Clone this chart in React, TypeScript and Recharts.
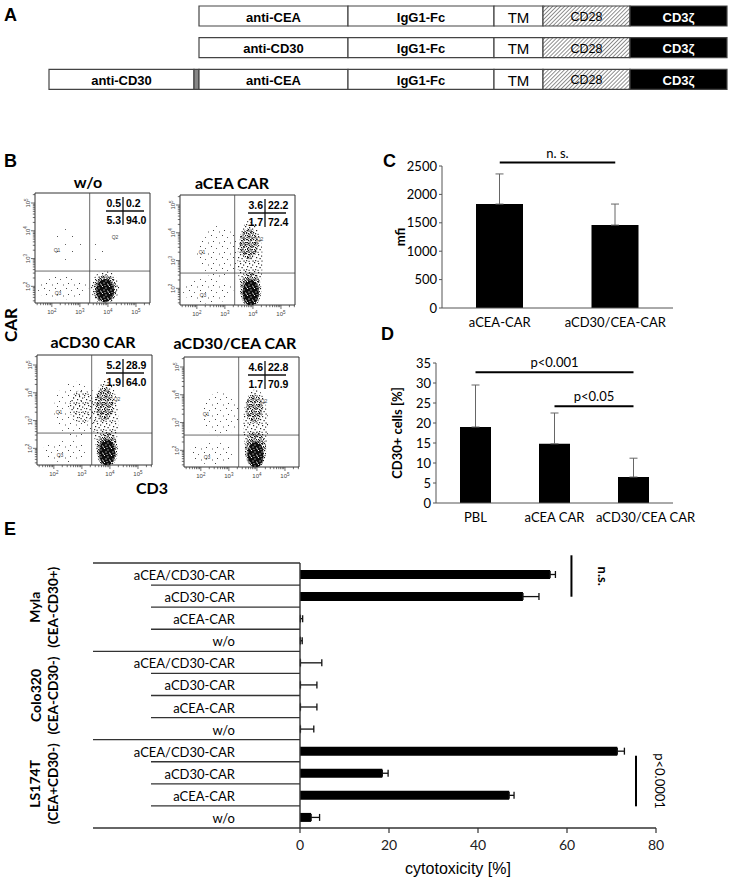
import React from 'react';
import {
  BarChart, Bar, XAxis, YAxis, ScatterChart, Scatter, ReferenceLine, ReferenceArea,
  ReferenceDot, ErrorBar, LabelList,
} from 'recharts';

const ARIAL = '"Liberation Sans", Arial, Helvetica, sans-serif';
const CALI = 'Lato, "Open Sans", sans-serif';

// ---------------- Panel A : CAR constructs (domain lengths, schematic units) ----------------
const constructNames = ['aCEA CAR', 'aCD30 CAR', 'aCD30/CEA CAR'];
const leadBinderNames = ['', '', 'anti-CD30'];
const mainBinderNames = ['anti-CEA', 'anti-CD30', 'anti-CEA'];
const leadBinderLen = [0, 0, 145];
const linkerLen = [0, 0, 5];
const mainBinderLen = [149, 149, 149];
const fcLen = [146, 146, 146];
const tmLen = [49, 49, 49];
const cd28Len = [87, 87, 87];
const cd3zLen = [97, 97, 97];
const fcName = 'IgG1-Fc';
const tmName = 'TM';
const cd28Name = 'CD28';
const cd3zName = 'CD3ζ';

// ---------------- Panel B : flow cytometry ----------------
const flowTitles = ['w/o', 'aCEA CAR', 'aCD30 CAR', 'aCD30/CEA CAR'];
const quadUL = ['0.5', '3.6', '5.2', '4.6'];
const quadUR = ['0.2', '22.2', '28.9', '22.8'];
const quadLL = ['5.3', '1.7', '1.9', '1.7'];
const quadLR = ['94.0', '72.4', '64.0', '70.9'];
const cd3Gate = 3.35;
const carGate = 2.55;
const flowXDomain = [1.4, 5.5];
const flowYDomain = [1.4, 5.36];
const flowDecades = [1, 2, 3, 4, 5];
const flowMinorFactors = [2, 3, 4, 5, 6, 7, 8, 9];
// cell populations: x = log10 CD3, y = log10 CAR, sx/sy = spread in decades, d = density level
const woClusters = [
  { x: 2.6, y: 3.5, sx: 0.55, sy: 0.75, d: -1 },
  { x: 3.6, y: 3.1, sx: 0.3, sy: 0.45, d: -1 },
  { x: 2.35, y: 1.95, sx: 0.95, sy: 0.42, d: 0 },
  { x: 3.9, y: 1.95, sx: 0.5, sy: 0.6, d: 1 },
  { x: 3.9, y: 1.9, sx: 0.41, sy: 0.5, d: 2 },
  { x: 3.9, y: 1.85, sx: 0.32, sy: 0.41, d: 3 },
];
const aceaClusters = [
  { x: 2.4, y: 1.9, sx: 0.9, sy: 0.45, d: 0 },
  { x: 2.75, y: 3.3, sx: 0.75, sy: 0.95, d: 0 },
  { x: 3.9, y: 3.0, sx: 0.45, sy: 1.45, d: 1 },
  { x: 3.85, y: 3.6, sx: 0.33, sy: 0.55, d: 2 },
  { x: 3.92, y: 1.95, sx: 0.38, sy: 0.62, d: 2 },
  { x: 3.92, y: 1.85, sx: 0.29, sy: 0.47, d: 3 },
];
const acd30Clusters = [
  { x: 2.4, y: 1.9, sx: 0.8, sy: 0.4, d: 0 },
  { x: 2.8, y: 3.4, sx: 0.8, sy: 1.0, d: 0 },
  { x: 3.0, y: 3.5, sx: 0.45, sy: 0.6, d: 1 },
  { x: 3.85, y: 3.0, sx: 0.45, sy: 1.45, d: 1 },
  { x: 3.8, y: 3.6, sx: 0.32, sy: 0.6, d: 2 },
  { x: 3.9, y: 1.95, sx: 0.38, sy: 0.62, d: 2 },
  { x: 3.9, y: 1.85, sx: 0.29, sy: 0.47, d: 3 },
];
const acd30ceaClusters = [
  { x: 2.4, y: 1.9, sx: 0.8, sy: 0.4, d: 0 },
  { x: 2.7, y: 3.3, sx: 0.65, sy: 0.8, d: 0 },
  { x: 3.95, y: 2.9, sx: 0.45, sy: 1.3, d: 1 },
  { x: 3.9, y: 3.5, sx: 0.3, sy: 0.5, d: 2 },
  { x: 3.95, y: 2.0, sx: 0.38, sy: 0.65, d: 2 },
  { x: 3.95, y: 1.85, sx: 0.29, sy: 0.47, d: 3 },
];
const flowClusters = [woClusters, aceaClusters, acd30Clusters, acd30ceaClusters];

// ---------------- Panel C : mfi ----------------
const mfiCategories = ['aCEA-CAR', 'aCD30/CEA-CAR'];
const mfiValues = [1830, 1460];
const mfiErrors = [530, 370];
const mfiTicks = [0, 500, 1000, 1500, 2000, 2500];
const mfiBracket = 2560;

// ---------------- Panel D : CD30+ cells ----------------
const cd30Categories = ['PBL', 'aCEA CAR', 'aCD30/CEA CAR'];
const cd30Values = [19.0, 14.8, 6.5];
const cd30Errors = [10.5, 7.7, 4.7];
const cd30Ticks = [0, 5, 10, 15, 20, 25, 30, 35];
const cd30BracketWide = 32.7;
const cd30BracketNarrow = 24.2;

// ---------------- Panel E : cytotoxicity ----------------
const cellLines = ['Myla', 'Colo320', 'LS174T'];
const cellPhenotypes = ['(CEA-CD30+)', '(CEA-CD30-)', '(CEA+CD30-)'];
const effectors = ['aCEA/CD30-CAR', 'aCD30-CAR', 'aCEA-CAR', 'w/o'];
const mylaCytotox = [56.2, 50.1, 0.1, 0.1];
const mylaErr = [1.2, 3.6, 0.5, 0.4];
const coloCytotox = [0.1, 0.1, 0.1, 0.1];
const coloErr = [4.8, 3.7, 3.7, 3.0];
const lsCytotox = [71.3, 18.5, 47.0, 2.5];
const lsErr = [1.6, 1.3, 1.1, 1.9];
const cytoTicks = [0, 20, 40, 60, 80];

// ================= derived tables =================
const constructTotals = constructNames.map((_, i) =>
  leadBinderLen[i] + linkerLen[i] + mainBinderLen[i] + fcLen[i] + tmLen[i] + cd28Len[i] + cd3zLen[i]);
const constructMax = Math.max(...constructTotals);
const constructData = constructNames.map((name, i) => ({
  name,
  pad: constructMax - constructTotals[i],
  lead: leadBinderLen[i], linker: linkerLen[i], main: mainBinderLen[i],
  fc: fcLen[i], tm: tmLen[i], cd28: cd28Len[i], cd3z: cd3zLen[i],
  leadName: leadBinderNames[i], mainName: mainBinderNames[i],
  fcName, tmName, cd28Name, cd3zName,
}));

const mfiData = mfiCategories.map((c, i) => ({ cat: c, v: mfiValues[i], err: [0, mfiErrors[i]] }));
const cd30Data = cd30Categories.map((c, i) => ({ cat: c, v: cd30Values[i], err: [0, cd30Errors[i]] }));

const cytoVals = [mylaCytotox, coloCytotox, lsCytotox];
const cytoErrs = [mylaErr, coloErr, lsErr];
const rowsE = cellLines.flatMap((line, g) => effectors.map((eff, j) => ({
  id: `${line}:${eff}`, g, j, eff, v: cytoVals[g][j], err: [0, cytoErrs[g][j]],
})));

const flowTicks = (dom: number[]) => flowDecades
  .flatMap((n) => [n, ...flowMinorFactors.map((k) => n + Math.log10(k))])
  .filter((t) => t >= dom[0] && t <= dom[1]);
const flowTicksX = flowTicks(flowXDomain);
const flowTicksY = flowTicks(flowYDomain);

// ================= layout constants =================
const FLOW_W = 115;
const FLOW_H = 110;
const flowFrameX = [35, 180, 37, 184];
const flowFrameY = [193, 195, 355, 357];
const flowCrossX = [88, 85, 86, 81];
const flowTitleX = [88, 232, 93, 235];
const flowTitleY = [182, 183, 342, 343];
const PXX = FLOW_W / (flowXDomain[1] - flowXDomain[0]);
const PXY = FLOW_H / (flowYDomain[1] - flowYDomain[0]);
const densityPattern: Record<string, string> = { '-1': 'fdq', '0': 'fd0', '1': 'fd1', '2': 'fd2', '3': 'fd3' };
const cd30LabelShift = [0, 0, 12];

const E_PLOT_H = 265;
const ROW_H = E_PLOT_H / rowsE.length;

// ================= helpers =================
const dot = (x: number, y: number, c = '#111', s = 1.2) => <rect key={`${x}-${y}`} x={x} y={y} width={s} height={s} fill={c} />;

function PatternDefs() {
  return (
    <svg width={0} height={0} style={{ position: 'absolute' }}>
      <defs>
        <pattern id="hatch" patternUnits="userSpaceOnUse" width={2.8} height={2.8} patternTransform="rotate(45)">
          <rect width={2.8} height={2.8} fill="#fff" />
          <line x1={0} y1={0} x2={0} y2={2.8} stroke="#555" strokeWidth={1.3} />
        </pattern>
        <pattern id="fd3" patternUnits="userSpaceOnUse" width={7} height={7}>
          <rect width={7} height={7} fill="#0d0d0d" />
          {dot(1, 0, '#fff', 1)}{dot(4.5, 1.5, '#eee', 1)}{dot(2.5, 3.5, '#fff', 1)}{dot(6, 4.5, '#ddd', 1)}{dot(0, 5.5, '#fff', 1)}{dot(3.5, 6, '#ccc', 1)}
        </pattern>
        <pattern id="fd2" patternUnits="userSpaceOnUse" width={7} height={7}>
          {dot(0, 0)}{dot(2, 1)}{dot(5, 0.5)}{dot(1, 3)}{dot(3.5, 2.5)}{dot(6, 3)}{dot(0.5, 5)}{dot(2.5, 5.5)}{dot(4.5, 4.5)}{dot(5.5, 6)}{dot(4, 0)}{dot(2, 4)}
        </pattern>
        <pattern id="fd1" patternUnits="userSpaceOnUse" width={9} height={9}>
          {dot(0, 0, '#222')}{dot(4, 1, '#222')}{dot(7, 2.5, '#333')}{dot(2, 4, '#222')}{dot(5.5, 5, '#222')}{dot(1, 7, '#333')}{dot(7.5, 7.5, '#222')}{dot(3.5, 7.8, '#444')}
        </pattern>
        <pattern id="fd0" patternUnits="userSpaceOnUse" width={11} height={11}>
          {dot(1, 1, '#444', 1)}{dot(6, 3, '#666', 1)}{dot(3, 7, '#444', 1)}{dot(9, 8.5, '#555', 1)}
        </pattern>
        <pattern id="fdq" patternUnits="userSpaceOnUse" width={15} height={15}>
          {dot(2, 3, '#555', 1)}{dot(10, 11, '#666', 1)}
        </pattern>
      </defs>
    </svg>
  );
}

const segLabel = (fill: string, weight: number, size: number) => (p: any) => {
  if (!p.value || !p.width) return null;
  return (
    <text x={p.x + p.width / 2} y={p.y + p.height / 2 + 1} textAnchor="middle" dominantBaseline="central"
      fill={fill} fontWeight={weight} fontSize={size} fontFamily={ARIAL}>{p.value}</text>
  );
};

function PanelA() {
  const box = { stroke: '#444', strokeWidth: 1.2 };
  return (
    <BarChart layout="vertical" width={744} height={95} data={constructData} barSize={20}
      margin={{ top: 0, right: 17, bottom: 0, left: 49 }}>
      <XAxis type="number" hide domain={[0, constructMax]} />
      <YAxis type="category" dataKey="name" hide />
      <Bar dataKey="pad" stackId="s" fill="none" isAnimationActive={false} />
      <Bar dataKey="lead" stackId="s" fill="#fff" {...box} isAnimationActive={false}>
        <LabelList dataKey="leadName" content={segLabel('#000', 700, 13)} />
      </Bar>
      <Bar dataKey="linker" stackId="s" fill="#888" {...box} isAnimationActive={false} />
      <Bar dataKey="main" stackId="s" fill="#fff" {...box} isAnimationActive={false}>
        <LabelList dataKey="mainName" content={segLabel('#000', 700, 13)} />
      </Bar>
      <Bar dataKey="fc" stackId="s" fill="#fff" {...box} isAnimationActive={false}>
        <LabelList dataKey="fcName" content={segLabel('#000', 700, 13)} />
      </Bar>
      <Bar dataKey="tm" stackId="s" fill="#fff" {...box} isAnimationActive={false}>
        <LabelList dataKey="tmName" content={segLabel('#000', 400, 15)} />
      </Bar>
      <Bar dataKey="cd28" stackId="s" fill="url(#hatch)" {...box} isAnimationActive={false}>
        <LabelList dataKey="cd28Name" content={segLabel('#000', 400, 12.5)} />
      </Bar>
      <Bar dataKey="cd3z" stackId="s" fill="#000" {...box} isAnimationActive={false}>
        <LabelList dataKey="cd3zName" content={segLabel('#fff', 700, 13)} />
      </Bar>
    </BarChart>
  );
}

const isMajor = (v: number) => Math.abs(v - Math.round(v)) < 1e-6;
function FlowXTick(p: any) {
  const v = p.payload.value;
  const m = isMajor(v);
  return (
    <g>
      <line x1={p.x} x2={p.x} y1={p.y} y2={p.y + (m ? 4 : 2.2)} stroke="#333" strokeWidth={0.7} />
      {m ? (
        <text x={p.x} y={p.y + 11} textAnchor="middle" fontSize={6} fill="#444" fontFamily={ARIAL}>
          10<tspan dy={-2.5} fontSize={4.5}>{Math.round(v)}</tspan>
        </text>
      ) : null}
    </g>
  );
}
function FlowYTick(p: any) {
  const v = p.payload.value;
  const m = isMajor(v);
  const tx = p.x - 5;
  return (
    <g>
      <line x1={p.x - (m ? 4 : 2.2)} x2={p.x} y1={p.y} y2={p.y} stroke="#333" strokeWidth={0.7} />
      {m ? (
        <text x={tx} y={p.y} transform={`rotate(-90 ${tx} ${p.y})`} textAnchor="middle" fontSize={6} fill="#444" fontFamily={ARIAL}>
          10<tspan dy={-2.5} fontSize={4.5}>{Math.round(v)}</tspan>
        </text>
      ) : null}
    </g>
  );
}
function BlobShape(p: any) {
  const c = p.payload;
  if (p.cx == null || p.cy == null) return null;
  return <ellipse cx={p.cx} cy={p.cy} rx={c.sx * PXX} ry={c.sy * PXY} fill={`url(#${densityPattern[String(c.d)]})`} />;
}

function FlowPlot({ i }: { i: number }) {
  return (
    <div style={{ position: 'absolute', left: flowFrameX[i] - 25, top: flowFrameY[i] - 5 }}>
      <ScatterChart width={FLOW_W + 30} height={FLOW_H + 30} margin={{ top: 5, right: 5, bottom: 5, left: 5 }}>
        <XAxis type="number" dataKey="x" domain={flowXDomain} allowDataOverflow ticks={flowTicksX} interval={0}
          tick={FlowXTick} tickLine={false} tickSize={0} tickMargin={0} axisLine={false} height={20} />
        <YAxis type="number" dataKey="y" domain={flowYDomain} allowDataOverflow ticks={flowTicksY} interval={0}
          tick={FlowYTick} tickLine={false} tickSize={0} tickMargin={0} axisLine={false} width={20} />
        <Scatter data={flowClusters[i]} shape={BlobShape} isAnimationActive={false} />
        <ReferenceLine x={cd3Gate} stroke="#444" strokeWidth={0.8} />
        <ReferenceLine y={carGate} stroke="#444" strokeWidth={0.8} />
        <ReferenceArea x1={flowXDomain[0]} x2={flowXDomain[1]} y1={flowYDomain[0]} y2={flowYDomain[1]}
          fill="none" stroke="#333" strokeWidth={1} />
      </ScatterChart>
    </div>
  );
}

const tickStyle = { fontSize: 13, fill: '#000', fontFamily: CALI };

function PanelC() {
  return (
    <BarChart width={330} height={200} data={mfiData} barSize={47} margin={{ top: 26, right: 17, left: 30, bottom: 0 }}>
      <XAxis dataKey="cat" height={32} tickLine={false} axisLine={{ stroke: '#555' }} tick={tickStyle} tickMargin={4} interval={0} />
      <YAxis width={52} domain={[0, 2500]} ticks={mfiTicks} interval={0} tickSize={3} tickMargin={2}
        axisLine={{ stroke: '#555' }} tickLine={{ stroke: '#555' }} tick={tickStyle}
        label={{ value: 'mfi', angle: -90, position: 'insideLeft', offset: 10,
          style: { textAnchor: 'middle', fontWeight: 700, fontSize: 13, fill: '#000', fontFamily: CALI } }} />
      <Bar dataKey="v" fill="#000" isAnimationActive={false}>
        <ErrorBar dataKey="err" width={4} stroke="#666" strokeWidth={1} direction="y" />
      </Bar>
      <ReferenceLine segment={[{ x: mfiCategories[0], y: mfiBracket }, { x: mfiCategories[1], y: mfiBracket }]}
        stroke="#000" strokeWidth={2} ifOverflow="visible"
        label={{ value: 'n. s.', position: 'top', fontSize: 13, fill: '#000', fontFamily: CALI }} />
    </BarChart>
  );
}

function CD30Tick(p: any) {
  const idx = cd30Categories.indexOf(p.payload.value);
  const dx = idx >= 0 ? cd30LabelShift[idx] : 0;
  return (
    <text x={p.x + dx} y={p.y} dy="0.71em" textAnchor="middle" fontSize={13} fill="#000" fontFamily={CALI}>{p.payload.value}</text>
  );
}

function PanelD() {
  return (
    <BarChart width={370} height={200} data={cd30Data} barSize={31} margin={{ top: 33, right: 57, left: 30, bottom: 0 }}>
      <XAxis dataKey="cat" height={27} tickLine={false} axisLine={{ stroke: '#555' }} tick={CD30Tick} tickMargin={4} interval={0} />
      <YAxis width={46} domain={[0, 35]} ticks={cd30Ticks} interval={0} tickSize={3} tickMargin={2}
        axisLine={{ stroke: '#555' }} tickLine={{ stroke: '#555' }} tick={tickStyle}
        label={{ value: 'CD30+ cells [%]', angle: -90, position: 'insideLeft', offset: 7,
          style: { textAnchor: 'middle', fontWeight: 700, fontSize: 13, fill: '#000', fontFamily: CALI } }} />
      <Bar dataKey="v" fill="#000" isAnimationActive={false}>
        <ErrorBar dataKey="err" width={4} stroke="#666" strokeWidth={1} direction="y" />
      </Bar>
      <ReferenceLine segment={[{ x: cd30Categories[0], y: cd30BracketWide }, { x: cd30Categories[2], y: cd30BracketWide }]}
        stroke="#000" strokeWidth={2} ifOverflow="visible"
        label={{ value: 'p<0.001', position: 'top', fontSize: 13, fill: '#000', fontFamily: CALI }} />
      <ReferenceLine segment={[{ x: cd30Categories[1], y: cd30BracketNarrow }, { x: cd30Categories[2], y: cd30BracketNarrow }]}
        stroke="#000" strokeWidth={2} ifOverflow="visible"
        label={{ value: 'p<0.05', position: 'top', fontSize: 13, fill: '#000', fontFamily: CALI }} />
    </BarChart>
  );
}

function EYTick(p: any) {
  const idx = rowsE.findIndex((r) => r.id === p.payload.value);
  if (idx < 0) return null;
  const row = rowsE[idx];
  const yTop = p.y - ROW_H / 2;
  const groupStart = row.j === 0;
  const gy = p.y + ROW_H * (effectors.length - 1) / 2;
  return (
    <g>
      <line x1={groupStart ? 93 : 151} x2={p.x} y1={yTop} y2={yTop} stroke="#333" strokeWidth={1.4} />
      {idx === rowsE.length - 1 ? (
        <line x1={93} x2={p.x} y1={p.y + ROW_H / 2} y2={p.y + ROW_H / 2} stroke="#333" strokeWidth={1.4} />
      ) : null}
      <text x={235} y={p.y + 1} textAnchor="end" dominantBaseline="central" fontSize={13} fill="#000" fontFamily={CALI}>{row.eff}</text>
      {groupStart ? (
        <g>
          <text x={35} y={gy} transform={`rotate(-90 35 ${gy})`} textAnchor="middle" dominantBaseline="central"
            fontSize={14} fontWeight={700} fill="#000" fontFamily={CALI}>{cellLines[row.g]}</text>
          <text x={53} y={gy} transform={`rotate(-90 53 ${gy})`} textAnchor="middle" dominantBaseline="central"
            fontSize={13.5} fontWeight={700} fill="#000" fontFamily={CALI}>{cellPhenotypes[row.g]}</text>
        </g>
      ) : null}
    </g>
  );
}

const rotLabel = (text: string, bold: boolean) => (p: any) => {
  const vb = p.viewBox || {};
  const cx = (vb.x || 0) + (vb.width || 0) / 2;
  const cy = (vb.y || 0) + (vb.height || 0) / 2;
  return (
    <text x={cx} y={cy} transform={`rotate(90 ${cx} ${cy})`} textAnchor="middle" dominantBaseline="central"
      fontSize={13} fontWeight={bold ? 700 : 400} fill="#000" fontFamily={CALI}>{text}</text>
  );
};

function PanelE() {
  return (
    <BarChart layout="vertical" width={744} height={362} data={rowsE} barSize={9}
      margin={{ top: 43, right: 88, left: 0, bottom: 0 }}>
      <XAxis type="number" domain={[0, 80]} ticks={cytoTicks} interval={0} height={54} tickSize={5} tickMargin={7}
        axisLine={{ stroke: '#333', strokeWidth: 1.4 }} tickLine={{ stroke: '#333', strokeWidth: 1.2 }}
        tick={{ fontSize: 14, fill: '#222', fontFamily: CALI }}
        label={(p: any) => {
          const vb = p.viewBox;
          return <text x={vb.x + vb.width / 2 - 20} y={vb.y + vb.height - 8} textAnchor="middle" fontSize={16} fill="#000" fontFamily={ARIAL}>cytotoxicity [%]</text>;
        }} />
      <YAxis type="category" dataKey="id" width={300} interval={0} tickLine={false} tickSize={0} tickMargin={0}
        axisLine={{ stroke: '#333', strokeWidth: 1.4 }} tick={EYTick} />
      <YAxis yAxisId="num" type="number" domain={[-0.5, rowsE.length - 0.5]} hide />
      <Bar dataKey="v" fill="#000" isAnimationActive={false}>
        <ErrorBar dataKey="err" width={3.5} stroke="#111" strokeWidth={1.3} direction="x" />
      </Bar>
      <ReferenceLine yAxisId="num" segment={[{ x: 61, y: -0.32 }, { x: 61, y: 1.4 }]} stroke="#000" strokeWidth={2} ifOverflow="visible" />
      <ReferenceLine yAxisId="num" segment={[{ x: 75.5, y: 8 }, { x: 75.5, y: 10.1 }]} stroke="#000" strokeWidth={2} ifOverflow="visible" />
      <ReferenceDot yAxisId="num" x={68} y={0.55} r={1} fill="none" stroke="none" ifOverflow="visible" label={rotLabel('n.s.', true)} />
      <ReferenceDot yAxisId="num" x={81} y={9.05} r={1} fill="none" stroke="none" ifOverflow="visible" label={rotLabel('p<0.0001', false)} />
    </BarChart>
  );
}

function Overlay() {
  const letter = { fontFamily: ARIAL, fontWeight: 700, fontSize: 18, fill: '#000' } as const;
  return (
    <svg width={744} height={882} style={{ position: 'absolute', left: 0, top: 0, pointerEvents: 'none' }}>
      <text x={4} y={21} {...letter}>A</text>
      <text x={4} y={167} {...letter}>B</text>
      <text x={383} y={167} {...letter}>C</text>
      <text x={381} y={340} {...letter}>D</text>
      <text x={4} y={535} {...letter}>E</text>
      {flowTitles.map((t, i) => (
        <text key={t} x={flowTitleX[i]} y={flowTitleY[i] + 5.5} textAnchor="middle" fontFamily={CALI} fontWeight={700} fontSize={16} fill="#000">{t}</text>
      ))}
      <text x={10} y={325} transform="rotate(-90 10 325)" textAnchor="middle" dominantBaseline="central" fontFamily={CALI} fontWeight={700} fontSize={17} fill="#000">CAR</text>
      <text x={152} y={494} textAnchor="middle" fontFamily={CALI} fontWeight={700} fontSize={16} fill="#000">CD3</text>
      {flowTitles.map((t, i) => {
        const fx = flowFrameX[i];
        const fy = flowFrameY[i];
        const vx = fx + flowCrossX[i];
        const hy = fy + 18;
        const num = { fontFamily: ARIAL, fontWeight: 700, fontSize: 10.5, fill: '#000' } as const;
        const q = { fontFamily: ARIAL, fontSize: 5, fill: '#444' } as const;
        return (
          <g key={'q' + t}>
            <line x1={vx - 17} x2={vx + 21} y1={hy} y2={hy} stroke="#111" strokeWidth={1.3} />
            <line x1={vx} x2={vx} y1={hy - 14} y2={hy + 14} stroke="#111" strokeWidth={1.3} />
            <text x={vx - 2} y={hy - 4} textAnchor="end" {...num}>{quadUL[i]}</text>
            <text x={vx + 3} y={hy - 4} {...num}>{quadUR[i]}</text>
            <text x={vx - 2} y={hy + 13} textAnchor="end" {...num}>{quadLL[i]}</text>
            <text x={vx + 3} y={hy + 13} {...num}>{quadLR[i]}</text>
            <text x={fx + 22} y={fy + 59} textAnchor="middle" {...q}>Q1</text>
            <text x={fx + 80} y={fy + 46} textAnchor="middle" {...q}>Q2</text>
            <text x={fx + 23} y={fy + 102} textAnchor="middle" {...q}>Q3</text>
          </g>
        );
      })}
    </svg>
  );
}

export default function App() {
  return (
    <div style={{ position: 'absolute', left: 0, top: 0, width: 744, height: 882, background: '#fff', overflow: 'hidden', fontFamily: ARIAL }}>
      <PatternDefs />
      <div style={{ position: 'absolute', left: 0, top: 0 }}><PanelA /></div>
      {flowTitles.map((t, i) => <FlowPlot key={t} i={i} />)}
      <div style={{ position: 'absolute', left: 360, top: 140 }}><PanelC /></div>
      <div style={{ position: 'absolute', left: 360, top: 330 }}><PanelD /></div>
      <div style={{ position: 'absolute', left: 0, top: 520 }}><PanelE /></div>
      <Overlay />
    </div>
  );
}
